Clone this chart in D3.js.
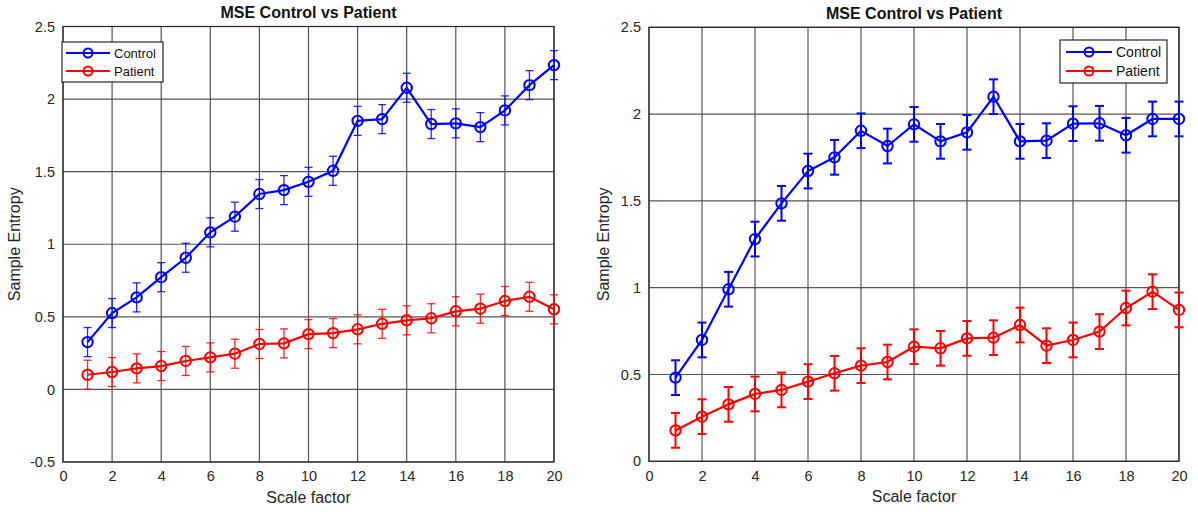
<!DOCTYPE html>
<html>
<head>
<meta charset="utf-8">
<script src="https://cdn.jsdelivr.net/npm/d3@7"></script>
<style>
  html, body { margin: 0; padding: 0; background: #ffffff; }
  svg { display: block; font-family: "Liberation Sans", Arial, sans-serif; }
</style>
</head>
<body>
<svg id="chart" width="1198" height="512"></svg>
<script>
// ---------- data ----------
const scaleFactors = [1,2,3,4,5,6,7,8,9,10,11,12,13,14,15,16,17,18,19,20];
const seriesNames = ["Control", "Patient"];
const chartTitle = "MSE Control vs Patient";
const xAxisTitle = "Scale factor";
const yAxisTitle = "Sample Entropy";

// left panel
const leftControl    = [0.326,0.526,0.634,0.773,0.907,1.082,1.190,1.346,1.373,1.430,1.506,1.850,1.862,2.078,1.828,1.833,1.807,1.922,2.096,2.234];
const leftControlErr = [0.10,0.10,0.10,0.10,0.10,0.10,0.10,0.10,0.10,0.10,0.10,0.10,0.10,0.10,0.10,0.10,0.10,0.10,0.10,0.10];
const leftPatient    = [0.101,0.120,0.145,0.161,0.196,0.221,0.246,0.313,0.317,0.381,0.388,0.414,0.452,0.476,0.490,0.538,0.556,0.609,0.638,0.552];
const leftPatientErr = [0.10,0.10,0.10,0.10,0.10,0.10,0.10,0.10,0.10,0.10,0.10,0.10,0.10,0.10,0.10,0.10,0.10,0.10,0.10,0.10];
const leftYTicks = [-0.5,0,0.5,1,1.5,2,2.5];

// right panel
const rightControl    = [0.482,0.699,0.991,1.280,1.486,1.672,1.751,1.904,1.816,1.941,1.843,1.895,2.100,1.843,1.847,1.945,1.947,1.878,1.972,1.972];
const rightControlErr = [0.10,0.10,0.10,0.10,0.10,0.10,0.10,0.10,0.10,0.10,0.10,0.10,0.10,0.10,0.10,0.10,0.10,0.10,0.10,0.10];
const rightPatient    = [0.178,0.257,0.328,0.388,0.411,0.459,0.507,0.551,0.572,0.660,0.651,0.708,0.712,0.785,0.666,0.699,0.747,0.883,0.977,0.872];
const rightPatientErr = [0.10,0.10,0.10,0.10,0.10,0.10,0.10,0.10,0.10,0.10,0.10,0.10,0.10,0.10,0.10,0.10,0.10,0.10,0.10,0.10];
const rightYTicks = [0,0.5,1,1.5,2,2.5];

const xTicks = [0,2,4,6,8,10,12,14,16,18,20];
const seriesColors = ["#0000ff", "#ff0000"];

// ---------- drawing ----------
const svg = d3.select("#chart");

function fmt(v) { return String(+v.toFixed(2)); }

function drawPanel(cfg) {
  const g = svg.append("g");
  const x = d3.scaleLinear().domain([0, 20]).range([cfg.left, cfg.right]);
  const y = d3.scaleLinear().domain(cfg.yDomain).range([cfg.bottom, cfg.top]);

  // grid
  g.append("g").selectAll("line.vg").data(xTicks).join("line")
    .attr("x1", d => x(d)).attr("x2", d => x(d))
    .attr("y1", cfg.top).attr("y2", cfg.bottom)
    .attr("stroke", "#555").attr("stroke-width", 1.2);
  g.append("g").selectAll("line.hg").data(cfg.yTicks).join("line")
    .attr("x1", cfg.left).attr("x2", cfg.right)
    .attr("y1", d => y(d)).attr("y2", d => y(d))
    .attr("stroke", "#555").attr("stroke-width", 1.2);

  // axes (labels only, MATLAB-like)
  const xAxis = d3.axisBottom(x).tickValues(xTicks).tickSize(0).tickPadding(9).tickFormat(fmt);
  const gx = g.append("g").attr("transform", `translate(0,${cfg.bottom})`).call(xAxis);
  gx.select(".domain").remove();
  gx.selectAll("text").attr("font-size", 14.5).attr("fill", "#262626")
    .attr("font-family", "Liberation Sans, Arial, sans-serif");

  const yAxis = d3.axisLeft(y).tickValues(cfg.yTicks).tickSize(0).tickPadding(8).tickFormat(fmt);
  const gy = g.append("g").attr("transform", `translate(${cfg.left},0)`).call(yAxis);
  gy.select(".domain").remove();
  gy.selectAll("text").attr("font-size", 14.5).attr("fill", "#262626")
    .attr("font-family", "Liberation Sans, Arial, sans-serif");

  // box
  g.append("rect").attr("x", cfg.left).attr("y", cfg.top)
    .attr("width", cfg.right - cfg.left).attr("height", cfg.bottom - cfg.top)
    .attr("fill", "none").attr("stroke", "#262626").attr("stroke-width", 1.2);

  // series
  cfg.series.forEach((s, si) => {
    const col = seriesColors[si];
    const pts = scaleFactors.map((f, i) => ({ f, v: s.values[i], e: s.err[i] }));
    const eg = g.append("g").attr("stroke", col).attr("stroke-width", cfg.errW).attr("fill", "none")
      .attr("stroke-opacity", cfg.errOpacity);
    eg.selectAll("line.ev").data(pts).join("line")
      .attr("x1", d => x(d.f)).attr("x2", d => x(d.f))
      .attr("y1", d => y(d.v - d.e)).attr("y2", d => y(d.v + d.e));
    eg.selectAll("line.et").data(pts).join("line")
      .attr("x1", d => x(d.f) - cfg.cap).attr("x2", d => x(d.f) + cfg.cap)
      .attr("y1", d => y(d.v + d.e)).attr("y2", d => y(d.v + d.e));
    eg.selectAll("line.eb").data(pts).join("line")
      .attr("x1", d => x(d.f) - cfg.cap).attr("x2", d => x(d.f) + cfg.cap)
      .attr("y1", d => y(d.v - d.e)).attr("y2", d => y(d.v - d.e));

    g.append("path").datum(pts)
      .attr("fill", "none").attr("stroke", col).attr("stroke-width", 2.2)
      .attr("d", d3.line().x(d => x(d.f)).y(d => y(d.v)));

    g.append("g").selectAll("circle").data(pts).join("circle")
      .attr("cx", d => x(d.f)).attr("cy", d => y(d.v)).attr("r", 5.2)
      .attr("fill", "none").attr("stroke", col).attr("stroke-width", 2);
  });

  // titles
  g.append("text").attr("x", (cfg.left + cfg.right) / 2).attr("y", cfg.top - 8.5)
    .attr("text-anchor", "middle").attr("font-size", 16).attr("font-weight", "bold")
    .attr("fill", "#111").text(chartTitle);
  g.append("text").attr("x", (cfg.left + cfg.right) / 2).attr("y", cfg.bottom + 41)
    .attr("text-anchor", "middle").attr("font-size", 16).attr("fill", "#262626").text(xAxisTitle);
  g.append("text")
    .attr("transform", `translate(${cfg.yLabelX},${(cfg.top + cfg.bottom) / 2}) rotate(-90)`)
    .attr("text-anchor", "middle").attr("font-size", 16).attr("fill", "#262626").text(yAxisTitle);

  // legend
  const L = cfg.legend;
  const lg = g.append("g");
  lg.append("rect").attr("x", L.x).attr("y", L.y).attr("width", L.w).attr("height", L.h)
    .attr("fill", "#fff").attr("stroke", "#262626").attr("stroke-width", 1.2);
  seriesNames.forEach((name, i) => {
    const yy = L.y + L.row0 + i * L.rowGap;
    lg.append("line").attr("x1", L.x + L.lineX0).attr("x2", L.x + L.lineX1)
      .attr("y1", yy).attr("y2", yy).attr("stroke", seriesColors[i]).attr("stroke-width", 2);
    lg.append("circle").attr("cx", L.x + (L.lineX0 + L.lineX1) / 2).attr("cy", yy).attr("r", 4.5)
      .attr("fill", "none").attr("stroke", seriesColors[i]).attr("stroke-width", 2);
    lg.append("text").attr("x", L.x + L.textX).attr("y", yy + 5)
      .attr("font-size", L.fs).attr("fill", "#111").text(name);
  });
}

drawPanel({
  left: 63, right: 554, top: 26.5, bottom: 462,
  yDomain: [-0.5, 2.5], yTicks: leftYTicks, yLabelX: 20,
  errW: 1.3, errOpacity: 0.85, cap: 4,
  series: [
    { values: leftControl, err: leftControlErr },
    { values: leftPatient, err: leftPatientErr }
  ],
  legend: { x: 62, y: 42, w: 101, h: 40, row0: 11, rowGap: 18, lineX0: 4, lineX1: 48, textX: 52, fs: 13 }
});

drawPanel({
  left: 649, right: 1179, top: 27.3, bottom: 461.3,
  yDomain: [0, 2.5], yTicks: rightYTicks, yLabelX: 609,
  errW: 2, errOpacity: 1, cap: 4.5,
  series: [
    { values: rightControl, err: rightControlErr },
    { values: rightPatient, err: rightPatientErr }
  ],
  legend: { x: 1060, y: 40, w: 107, h: 43, row0: 12, rowGap: 19, lineX0: 6, lineX1: 52, textX: 56, fs: 14 }
});
</script>
</body>
</html>
